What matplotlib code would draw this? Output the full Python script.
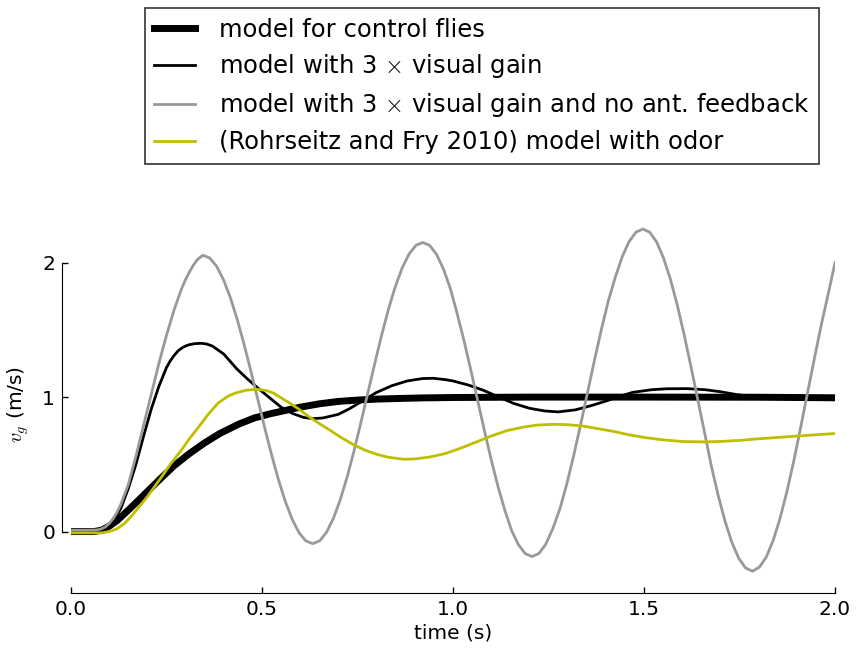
import matplotlib
matplotlib.use("Agg")
import matplotlib.pyplot as plt

plt.rcParams['mathtext.fontset'] = 'cm'

# model for control flies
ctrl_t = [0.0, 0.06, 0.08, 0.10, 0.12, 0.154, 0.19, 0.233, 0.27, 0.31, 0.35, 0.39, 0.44, 0.48,
          0.52, 0.56, 0.60, 0.65, 0.70, 0.75, 0.80, 0.86, 0.92, 1.0, 1.2, 1.5, 1.8, 2.0]
ctrl_v = [0.0, 0.0, 0.01, 0.04, 0.08, 0.17, 0.27, 0.39, 0.49, 0.58, 0.66, 0.73, 0.80, 0.845,
          0.875, 0.90, 0.925, 0.95, 0.968, 0.978, 0.985, 0.99, 0.994, 0.997, 1.0, 1.0, 0.999, 0.995]

# model with 3x visual gain
gain_t = [0.0, 0.05, 0.07, 0.09, 0.11, 0.13, 0.15, 0.17, 0.19, 0.21, 0.23, 0.25, 0.26, 0.27,
          0.28, 0.29, 0.30, 0.31, 0.325, 0.342, 0.355, 0.37, 0.40, 0.434, 0.46, 0.49, 0.52,
          0.55, 0.58, 0.61, 0.635, 0.66, 0.70, 0.73, 0.765, 0.80, 0.84, 0.88, 0.92, 0.948,
          0.98, 1.00, 1.04, 1.08, 1.12, 1.16, 1.20, 1.24, 1.275, 1.32, 1.36, 1.40, 1.43, 1.47,
          1.52, 1.56, 1.612, 1.66, 1.70, 1.74, 1.78, 1.82, 1.90, 2.0]
gain_v = [0.01, 0.0, 0.01, 0.025, 0.07, 0.17, 0.32, 0.50, 0.71, 0.91, 1.08, 1.22, 1.27, 1.31,
          1.343, 1.365, 1.38, 1.39, 1.398, 1.40, 1.395, 1.38, 1.32, 1.21, 1.14, 1.065, 0.995,
          0.925, 0.878, 0.848, 0.84, 0.845, 0.872, 0.915, 0.975, 1.035, 1.085, 1.12, 1.138, 1.14,
          1.13, 1.12, 1.09, 1.05, 1.0, 0.952, 0.917, 0.897, 0.89, 0.905, 0.935, 0.97, 1.0, 1.035,
          1.055, 1.062, 1.063, 1.055, 1.04, 1.02, 1.005, 0.998, 0.996, 0.998]

# model with 3x visual gain and no antennal feedback
noant_t = [0.0, 0.04, 0.06, 0.07, 0.08, 0.09, 0.10, 0.11, 0.12, 0.13, 0.15, 0.17, 0.19, 0.21,
           0.23, 0.25, 0.27, 0.29, 0.30, 0.31, 0.32, 0.33, 0.345,
           0.363, 0.381, 0.399, 0.417, 0.435, 0.453, 0.471, 0.489, 0.507, 0.525, 0.543, 0.561,
           0.579, 0.597, 0.615, 0.633,
           0.651, 0.669, 0.687, 0.705, 0.723, 0.741, 0.759, 0.777, 0.795, 0.813, 0.831, 0.849,
           0.867, 0.885, 0.903, 0.921,
           0.939, 0.957, 0.975, 0.993, 1.010, 1.028, 1.046, 1.064, 1.082, 1.100, 1.118, 1.136,
           1.153, 1.171, 1.189, 1.207,
           1.225, 1.243, 1.261, 1.280, 1.298, 1.316, 1.334, 1.352, 1.370, 1.388, 1.406, 1.425,
           1.443, 1.461, 1.479, 1.497,
           1.515, 1.533, 1.551, 1.569, 1.587, 1.605, 1.623, 1.641, 1.659, 1.676, 1.694, 1.712,
           1.730, 1.748, 1.766, 1.784,
           1.802, 1.820, 1.838, 1.856, 1.874, 1.892, 1.910, 1.928, 1.946, 1.964, 1.982, 2.0]
noant_v = [0.01, 0.01, 0.011, 0.013, 0.02, 0.035, 0.06, 0.095, 0.14, 0.20, 0.35, 0.56, 0.79, 1.02,
           1.25, 1.46, 1.65, 1.81, 1.875, 1.93, 1.98, 2.02, 2.055,
           2.035, 1.974, 1.874, 1.741, 1.579, 1.393, 1.192, 0.983, 0.773, 0.572, 0.386, 0.224,
           0.091, -0.009, -0.070, -0.090,
           -0.069, -0.005, 0.099, 0.238, 0.407, 0.601, 0.812, 1.03, 1.248, 1.459, 1.653, 1.822,
           1.961, 2.065, 2.129, 2.15,
           2.128, 2.061, 1.953, 1.808, 1.631, 1.429, 1.210, 0.982, 0.754, 0.535, 0.333, 0.156,
           0.011, -0.097, -0.164, -0.186,
           -0.163, -0.093, 0.020, 0.171, 0.355, 0.566, 0.794, 1.032, 1.270, 1.498, 1.709, 1.893,
           2.044, 2.157, 2.227, 2.25,
           2.226, 2.154, 2.035, 1.878, 1.686, 1.465, 1.226, 0.978, 0.730, 0.491, 0.270, 0.078,
           -0.080, -0.199, -0.271, -0.295,
           -0.265, -0.19, -0.067, 0.097, 0.296, 0.524, 0.773, 1.03, 1.287, 1.536, 1.764, 2.0]

# (Rohrseitz and Fry 2010) model with odor
odor_t = [0.0, 0.08, 0.10, 0.12, 0.14, 0.16, 0.18, 0.20, 0.233, 0.26, 0.29, 0.31, 0.332, 0.36,
          0.385, 0.41, 0.43, 0.46, 0.486, 0.51, 0.53, 0.547, 0.57, 0.594, 0.62, 0.652, 0.68,
          0.704, 0.74, 0.77, 0.80, 0.83, 0.87, 0.90, 0.94, 0.98, 1.02, 1.06, 1.10, 1.14, 1.18,
          1.22, 1.262, 1.30, 1.34, 1.38, 1.42, 1.46, 1.50, 1.55, 1.60, 1.655, 1.70, 1.75, 1.80,
          1.85, 1.90, 1.95, 2.0]
odor_v = [-0.01, -0.01, 0.0, 0.02, 0.06, 0.12, 0.19, 0.26, 0.39, 0.50, 0.61, 0.69, 0.77, 0.875,
          0.955, 1.005, 1.03, 1.052, 1.058, 1.05, 1.03, 1.0, 0.96, 0.915, 0.86, 0.80, 0.75,
          0.705, 0.645, 0.605, 0.575, 0.553, 0.538, 0.54, 0.555, 0.58, 0.62, 0.665, 0.71, 0.75,
          0.775, 0.792, 0.798, 0.795, 0.785, 0.765, 0.745, 0.72, 0.70, 0.682, 0.67, 0.667, 0.67,
          0.678, 0.69, 0.70, 0.71, 0.72, 0.729]

labels = ['model for control flies',
          r'model with 3$\,\times\,$visual gain',
          r'model with 3$\,\times\,$visual gain and no ant. feedback',
          '(Rohrseitz and Fry 2010) model with odor']

fig = plt.figure(figsize=(8.56, 6.49), dpi=100)
ax = fig.add_axes([71 / 856, 65 / 649, 764 / 856, 359 / 649])

ax.plot(ctrl_t, ctrl_v, color='k', lw=5, label=labels[0])
ax.plot(gain_t, gain_v, color='k', lw=2, label=labels[1])
ax.plot(noant_t, noant_v, color='#999999', lw=2, label=labels[2])
ax.plot(odor_t, odor_v, color='#bfbf00', lw=2, label=labels[3])

ax.set_xlim(0, 2)
ax.set_ylim(-0.39, 2.28)
ax.set_xticks([0.0, 0.5, 1.0, 1.5, 2.0])
ax.set_xticklabels(['0.0', '0.5', '1.0', '1.5', '2.0'])
ax.set_yticks([0, 1, 2])

for s in ['top', 'right']:
    ax.spines[s].set_visible(False)
ax.spines['left'].set_position(('outward', 6.5))
ax.spines['bottom'].set_position(('outward', 6.5))
ax.spines['left'].set_bounds(0, 2)
ax.spines['bottom'].set_bounds(0, 2)
ax.tick_params(direction='in', length=4.5, width=1, labelsize=14.5, pad=5)

ax.set_xlabel('time (s)', fontsize=14.5, labelpad=3)
ax.set_ylabel(r'$v_g$ (m/s)', fontsize=14.5, labelpad=8)

leg = fig.legend(loc='upper center', bbox_to_anchor=(0.563, 0.988), fontsize=17.5,
                 frameon=True, fancybox=False, handlelength=1.65, handletextpad=1.0,
                 labelspacing=0.45, borderaxespad=0)
leg.get_frame().set_edgecolor('k')
leg.get_frame().set_linewidth(1.2)

fig.savefig('out.png', dpi=100)
